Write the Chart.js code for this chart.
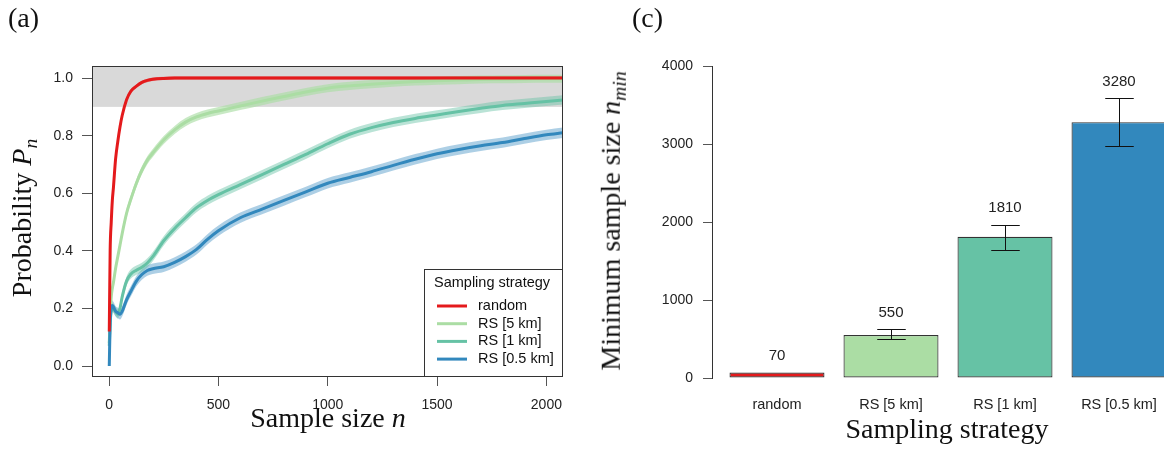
<!DOCTYPE html>
<html>
<head>
<meta charset="utf-8">
<script src="https://cdn.jsdelivr.net/npm/chart.js@4/dist/chart.umd.min.js"></script>
<style>
  html, body { margin: 0; padding: 0; background: #fff; }
  body { width: 1164px; height: 450px; position: relative; overflow: hidden; }
  canvas { position: absolute; top: 0; }
  #probChart { left: 0; }
  #minChart { left: 580px; }
  .lbl {
    position: absolute; white-space: nowrap; line-height: 1; color: #111;
    font-family: "Liberation Serif", "Times New Roman", serif; font-size: 28px;
    transform: translate(-50%, -50%);
  }
  .rot { transform: translate(-50%, -50%) rotate(-90deg); }
  .lbl sub { font-size: 70%; vertical-align: -0.3em; }
</style>
</head>
<body>
<canvas id="probChart" width="580" height="450"></canvas>
<canvas id="minChart" width="620" height="450"></canvas>

<div class="lbl" style="left:23.5px; top:18px;">(a)</div>
<div class="lbl rot" style="left:24px; top:218px;">Probability <i>P</i><sub><i>n</i></sub></div>
<div class="lbl" style="left:328px; top:418px;">Sample size <i>n</i></div>

<div class="lbl" style="left:647.5px; top:18px;">(c)</div>
<div class="lbl rot" style="left:613px; top:221px;">Minimum sample size <i>n</i><sub><i>min</i></sub></div>
<div class="lbl" style="left:947px; top:429px;">Sampling strategy</div>

<script>
// ---- panel (a) data: probability vs sample size ----
const sampleSize = [1, 5, 10, 15, 20, 30, 40, 50, 60, 80, 100, 125, 150, 175, 200, 250, 300, 350, 400, 450,
  500, 600, 700, 800, 900, 1000, 1100, 1200, 1300, 1400, 1500, 1600, 1700, 1800, 1900, 2000, 2076];

const random = [0.12, 0.40, 0.50, 0.575, 0.62, 0.72, 0.78, 0.83, 0.87, 0.925, 0.955, 0.972, 0.985, 0.992, 0.996, 0.999, 1.0, 1.0, 1.0, 1.0,
  1.0, 1.0, 1.0, 1.0, 1.0, 1.0, 1.0, 1.0, 1.0, 1.0, 1.0, 1.0, 1.0, 1.0, 1.0, 1.0, 1.0];
const rs5km = [0.08, 0.17, 0.24, 0.27, 0.29, 0.34, 0.38, 0.42, 0.46, 0.53, 0.58, 0.635, 0.68, 0.715, 0.74, 0.785, 0.82, 0.847, 0.865, 0.877,
  0.886, 0.903, 0.92, 0.936, 0.952, 0.965, 0.973, 0.979, 0.984, 0.988, 0.991, 0.993, 0.995, 0.996, 0.997, 0.998, 0.998];
const rs1km = [0.07, 0.15, 0.19, 0.205, 0.20, 0.19, 0.18, 0.20, 0.24, 0.295, 0.32, 0.333, 0.343, 0.358, 0.38, 0.435, 0.478, 0.515, 0.55, 0.575,
  0.595, 0.63, 0.665, 0.70, 0.735, 0.772, 0.805, 0.828, 0.846, 0.86, 0.872, 0.884, 0.895, 0.905, 0.912, 0.919, 0.924];
const rs05km = [0.0, 0.15, 0.20, 0.21, 0.205, 0.19, 0.185, 0.18, 0.19, 0.23, 0.26, 0.295, 0.318, 0.332, 0.338, 0.345, 0.36, 0.38, 0.405, 0.44,
  0.47, 0.515, 0.545, 0.575, 0.605, 0.635, 0.655, 0.675, 0.697, 0.718, 0.737, 0.752, 0.765, 0.776, 0.79, 0.803, 0.81];

// half width of the shaded band round each curve
const bandHalfWidth = [0.006, 0.014, 0.016, 0.018];

const seriesLabels = ["random", "RS [5 km]", "RS [1 km]", "RS [0.5 km]"];
const sizeTicks = [0, 500, 1000, 1500, 2000];
const probTicks = [0, 0.2, 0.4, 0.6, 0.8, 1.0];
const targetProbability = 0.9;

// ---- panel (c) data: minimum sample size ----
const strategies = ["random", "RS [5 km]", "RS [1 km]", "RS [0.5 km]"];
const nMin = [70, 550, 1810, 3280];
const nMinLow = [null, 495, 1640, 2980];
const nMinHigh = [null, 630, 1965, 3590];
const nMinTicks = [0, 1000, 2000, 3000, 4000];

const lineColors = ["#e41a1c", "#abdda4", "#66c2a5", "#3288bd"];
const bandColors = ["rgba(228,26,28,0.35)", "rgba(171,221,164,0.65)", "rgba(102,194,165,0.45)", "rgba(50,136,189,0.4)"];
const lineOrder = [1, 4, 3, 2];

Chart.defaults.font.family = "'Liberation Sans', Arial, sans-serif";
Chart.defaults.color = "#222";

const tickFont = { family: "'Liberation Sans', Arial, sans-serif", size: 14 };

// build line + band datasets
const probDatasets = [];
const allSeries = [random, rs5km, rs1km, rs05km];
allSeries.forEach(function (vals, s) {
  const pts = (off) => sampleSize.map((n, i) => ({ x: n, y: vals[i] + off }));
  probDatasets.push({
    data: pts(-bandHalfWidth[s]), borderWidth: 0, pointRadius: 0, fill: false, order: 10 + s
  });
  probDatasets.push({
    data: pts(bandHalfWidth[s]), borderWidth: 0, pointRadius: 0, fill: "-1",
    backgroundColor: bandColors[s], order: 10 + s
  });
  probDatasets.push({
    label: seriesLabels[s], data: pts(0), borderColor: lineColors[s], borderWidth: 3,
    pointRadius: 0, fill: false, order: lineOrder[s], legendEntry: true
  });
});

const greyBand = {
  id: "greyBand",
  beforeDatasetsDraw(chart) {
    const { ctx, chartArea: a, scales } = chart;
    const yb = scales.y.getPixelForValue(targetProbability);
    ctx.save();
    ctx.fillStyle = "#d9d9d9";
    ctx.fillRect(a.left, a.top, a.right - a.left, yb - a.top);
    ctx.restore();
  }
};

const frameAndLegend = {
  id: "frameAndLegend",
  afterDraw(chart) {
    const { ctx, chartArea: a } = chart;
    ctx.save();
    ctx.strokeStyle = "#333";
    ctx.lineWidth = 1;
    ctx.strokeRect(a.left + 0.5, a.top + 0.5, a.right - a.left - 1, a.bottom - a.top - 1);

    // legend box in the lower right corner
    const x0 = a.right - 139, y0 = a.bottom - 108;
    ctx.fillStyle = "#fff";
    ctx.fillRect(x0, y0, a.right - x0, a.bottom - y0);
    ctx.strokeRect(x0 + 0.5, y0 + 0.5, a.right - x0 - 1, a.bottom - y0 - 1);
    ctx.font = "14.5px 'Liberation Sans', Arial, sans-serif";
    ctx.textBaseline = "middle";
    ctx.textAlign = "left";
    ctx.fillStyle = "#111";
    ctx.fillText("Sampling strategy", x0 + 10, y0 + 14);
    const entries = chart.data.datasets.filter(d => d.legendEntry);
    entries.forEach(function (d, k) {
      const yy = y0 + 37 + k * 17.7;
      ctx.strokeStyle = d.borderColor;
      ctx.lineWidth = 3;
      ctx.beginPath();
      ctx.moveTo(x0 + 13, yy);
      ctx.lineTo(x0 + 43, yy);
      ctx.stroke();
      ctx.fillStyle = "#111";
      ctx.fillText(d.label, x0 + 54, yy);
    });
    ctx.restore();
  }
};

new Chart(document.querySelector("#probChart"), {
  type: "line",
  data: { datasets: probDatasets },
  options: {
    responsive: false,
    animation: false,
    devicePixelRatio: 1,
    layout: { padding: { left: 0, top: 66, right: 17, bottom: 0 } },
    plugins: { legend: { display: false }, tooltip: { enabled: false } },
    elements: { line: { cubicInterpolationMode: "monotone" } },
    scales: {
      x: {
        type: "linear", min: -78, max: 2076,
        afterBuildTicks: ax => { ax.ticks = sizeTicks.map(v => ({ value: v })); },
        afterFit: sc => { sc.height = 73; },
        grid: { drawOnChartArea: false, drawTicks: true, tickLength: 9, color: "#555" },
        border: { display: false },
        ticks: { padding: 11, autoSkip: false, maxRotation: 0, font: tickFont, color: "#222", callback: v => String(v) }
      },
      y: {
        type: "linear", min: -0.038, max: 1.042,
        afterBuildTicks: ax => { ax.ticks = probTicks.map(v => ({ value: v })); },
        afterFit: sc => { sc.width = 92; },
        grid: { drawOnChartArea: false, drawTicks: true, tickLength: 10, color: "#555" },
        border: { display: false },
        ticks: { padding: 9, autoSkip: false, font: tickFont, color: "#222", callback: v => v.toFixed(1) }
      }
    }
  },
  plugins: [greyBand, frameAndLegend]
});

// ---- panel (c) ----
const barColors = ["#e41a1c", "#abdda4", "#66c2a5", "#3288bd"];
const barPositions = strategies.map((s, i) => 0.7 + 1.2 * i);

const errorBars = {
  id: "errorBars",
  afterDatasetsDraw(chart) {
    const { ctx, scales } = chart;
    const meta = chart.getDatasetMeta(0);
    ctx.save();
    meta.data.forEach(function (bar, i) {
      const x = bar.x;
      const cap = scales.x.getPixelForValue(barPositions[i] + 0.15) - x;
      if (nMinLow[i] !== null) {
        const yt = Math.round(scales.y.getPixelForValue(nMinHigh[i])) + 0.5;
        const yb = Math.round(scales.y.getPixelForValue(nMinLow[i])) + 0.5;
        const xc = Math.round(x) + 0.5;
        ctx.strokeStyle = "#111";
        ctx.lineWidth = 1;
        ctx.beginPath();
        ctx.moveTo(xc, yt); ctx.lineTo(xc, yb);
        ctx.moveTo(xc - cap, yt); ctx.lineTo(xc + cap, yt);
        ctx.moveTo(xc - cap, yb); ctx.lineTo(xc + cap, yb);
        ctx.stroke();
      }
      const topVal = nMinHigh[i] !== null ? nMinHigh[i] : nMin[i];
      ctx.fillStyle = "#222";
      ctx.font = "15px 'Liberation Sans', Arial, sans-serif";
      ctx.textAlign = "center";
      ctx.textBaseline = "middle";
      ctx.fillText(String(nMin[i]), x, scales.y.getPixelForValue(topVal) - 16.5);
    });
    ctx.restore();
  }
};

new Chart(document.querySelector("#minChart"), {
  type: "bar",
  data: {
    datasets: [{
      data: strategies.map((s, i) => ({ x: barPositions[i], y: nMin[i] })),
      backgroundColor: barColors,
      borderColor: "#333",
      borderWidth: 1.2,
      borderSkipped: false,
      categoryPercentage: 1 / 1.2,
      barPercentage: 1
    }]
  },
  options: {
    responsive: false,
    animation: false,
    devicePixelRatio: 1,
    layout: { padding: { left: 0, top: 66, right: 16, bottom: 0 } },
    plugins: { legend: { display: false }, tooltip: { enabled: false } },
    scales: {
      x: {
        type: "linear", min: 0.016, max: 4.984, offset: false,
        afterBuildTicks: ax => { ax.ticks = barPositions.map(v => ({ value: v })); },
        afterFit: sc => { sc.height = 72; },
        grid: { display: false, drawTicks: false, offset: false },
        border: { display: false },
        ticks: {
          padding: 18, autoSkip: false, maxRotation: 0,
          font: { family: "'Liberation Sans', Arial, sans-serif", size: 14.5 }, color: "#222",
          callback: (v, i) => strategies[i]
        }
      },
      y: {
        type: "linear", min: 0, max: 4000,
        afterBuildTicks: ax => { ax.ticks = nMinTicks.map(v => ({ value: v })); },
        afterFit: sc => { sc.width = 132; },
        grid: { drawOnChartArea: false, drawTicks: true, tickLength: 9, color: "#555" },
        border: { display: true, color: "#333", width: 1 },
        ticks: { padding: 10, autoSkip: false, font: tickFont, color: "#222", callback: v => String(v) }
      }
    }
  },
  plugins: [errorBars]
});
</script>
</body>
</html>
